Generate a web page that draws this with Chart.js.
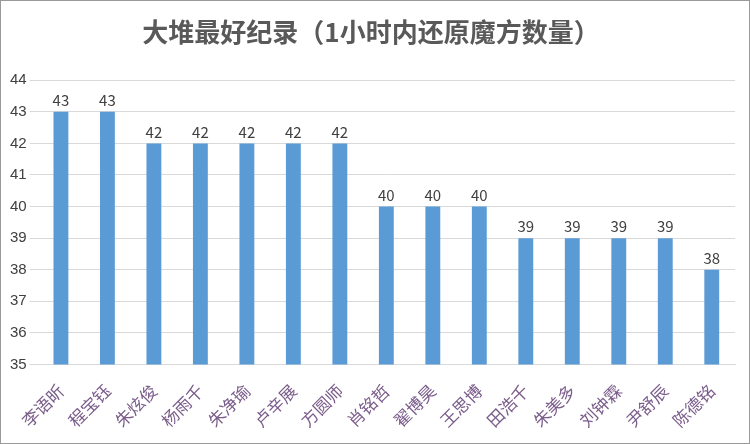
<!DOCTYPE html>
<html><head><meta charset="utf-8">
<script src="https://cdn.jsdelivr.net/npm/chart.js@4"></script>
<style>body{margin:0;background:#fff}#w{width:748px;height:442px;border:1px solid #9a9a9a;position:relative}</style>
</head><body><div id="w"><canvas id="c"></canvas></div>
<script>
const categories=["李语昕","程宝钰","朱炫俊","杨雨千","朱净瑜","卢辛展","方圆师","肖铭哲","翟博昊","王思博","田浩千","朱美多","刘钟霖","尹舒辰","陈德铭"];
const values=[43,43,42,42,42,42,42,40,40,40,39,39,39,39,38];
const labelsPlugin={id:'lbl',afterDatasetsDraw(ch){const ctx=ch.ctx;const m=ch.getDatasetMeta(0);ctx.save();ctx.font='15px "Noto Sans CJK SC", sans-serif';ctx.fillStyle='#404040';ctx.textAlign='center';ctx.textBaseline='bottom';m.data.forEach((b,i)=>ctx.fillText(values[i],b.x,b.y-4));ctx.restore();}};
new Chart(document.getElementById('c'),{type:'bar',data:{labels:categories,datasets:[{data:values,backgroundColor:'#5B9BD5',barPercentage:0.32,categoryPercentage:1}]},
options:{responsive:true,maintainAspectRatio:false,animation:false,layout:{padding:{left:6,right:14,top:0,bottom:4}},
plugins:{legend:{display:false},tooltip:{enabled:false},title:{display:true,text:'大堆最好纪录（1小时内还原魔方数量）',color:'#595959',font:{size:26,family:'"Noto Sans CJK SC"',weight:'bold'},padding:{top:16,bottom:32}}},
scales:{y:{min:35,max:44,ticks:{stepSize:1,color:'#404040',font:{size:15}},grid:{color:'#d9d9d9'},border:{display:false}},
x:{ticks:{color:'#7a5c8a',font:{size:17,family:'"Noto Sans CJK SC"'},maxRotation:45,minRotation:45,autoSkip:false,padding:8},grid:{display:false},border:{color:'#d9d9d9'}}}},
plugins:[labelsPlugin]});
</script></body></html>
